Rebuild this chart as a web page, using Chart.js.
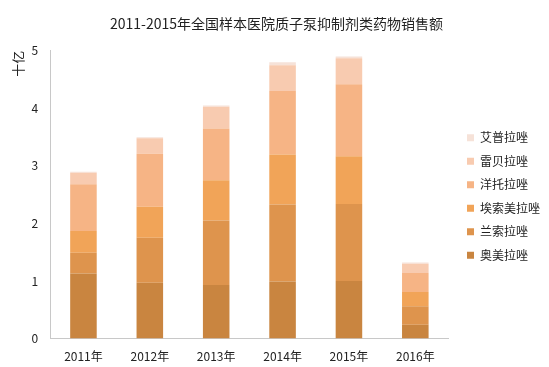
<!DOCTYPE html>
<html>
<head>
<meta charset="utf-8">
<script src="https://cdn.jsdelivr.net/npm/chart.js@4/dist/chart.umd.min.js"></script>
<style>
html,body{margin:0;padding:0;background:#fff;}
#wrap{width:549px;height:367px;position:relative;}
</style>
</head>
<body>
<div id="wrap"><canvas id="c" width="549" height="367"></canvas></div>
<script>
const categories = ['2011年','2012年','2013年','2014年','2015年','2016年'];
const seriesNames = ['奥美拉唑','兰索拉唑','埃索美拉唑','洋托拉唑','雷贝拉唑','艾普拉唑'];
const omeprazole   = [1.13, 0.97, 0.93, 0.99, 1.00, 0.24];
const lansoprazole = [0.36, 0.78, 1.12, 1.34, 1.34, 0.32];
const esomeprazole = [0.38, 0.54, 0.70, 0.87, 0.83, 0.25];
const pantoprazole = [0.81, 0.92, 0.90, 1.10, 1.25, 0.33];
const rabeprazole  = [0.20, 0.27, 0.38, 0.45, 0.45, 0.16];
const ilaprazole   = [0.02, 0.02, 0.02, 0.05, 0.03, 0.02];
const yTicks = [0, 1, 2, 3, 4, 5];
const title = '2011-2015年全国样本医院质子泵抑制剂类药物销售额';
const yUnit = '十亿';

const seriesValues = [omeprazole, lansoprazole, esomeprazole, pantoprazole, rabeprazole, ilaprazole];
const colors = ['#C98540', '#DE944D', '#F1A458', '#F6B485', '#F8CBB0', '#F6E2D8'];
const FONT = '"Noto Sans CJK SC", "Noto Sans", sans-serif';

const legendShift = {
  id: 'legendShift',
  afterLayout(chart) {
    const l = chart.legend;
    if (!l) return;
    l.left += 7; l.right += 7;
    l.top += 13; l.bottom += 13;
  }
};

new Chart(document.getElementById('c'), {
  type: 'bar',
  data: {
    labels: categories,
    datasets: seriesNames.map((n, i) => ({
      label: n,
      data: seriesValues[i],
      backgroundColor: colors[i],
      borderWidth: 0,
      barPercentage: 0.4,
      categoryPercentage: 1.0
    }))
  },
  plugins: [legendShift],
  options: {
    responsive: false,
    animation: false,
    layout: { padding: { left: 10, right: 6, top: 0, bottom: 0 } },
    plugins: {
      title: {
        display: true, text: title, color: '#222',
        font: { family: FONT, size: 14, weight: 'normal' },
        padding: { top: 15, bottom: 19 }
      },
      legend: {
        position: 'right', reverse: true, align: 'center',
        labels: {
          boxWidth: 7, boxHeight: 7, padding: 11.5, color: '#222',
          font: { family: FONT, size: 12 }
        }
      },
      tooltip: { enabled: false }
    },
    scales: {
      x: {
        stacked: true,
        grid: { display: false },
        border: { color: '#c8c8c8', width: 1 },
        ticks: { color: '#222', font: { family: FONT, size: 12 }, padding: 3 }
      },
      y: {
        stacked: true,
        min: 0, max: 5,
        afterBuildTicks: (ax) => { ax.ticks = yTicks.map(v => ({ value: v })); },
        grid: { display: false },
        border: { color: '#c8c8c8', width: 1 },
        ticks: { color: '#222', font: { family: FONT, size: 12 }, padding: 4 },
        title: {
          display: true, text: yUnit, align: 'end', color: '#222',
          font: { family: FONT, size: 13 }, padding: { top: 0, bottom: 2 }
        }
      }
    }
  }
});
</script>
</body>
</html>
